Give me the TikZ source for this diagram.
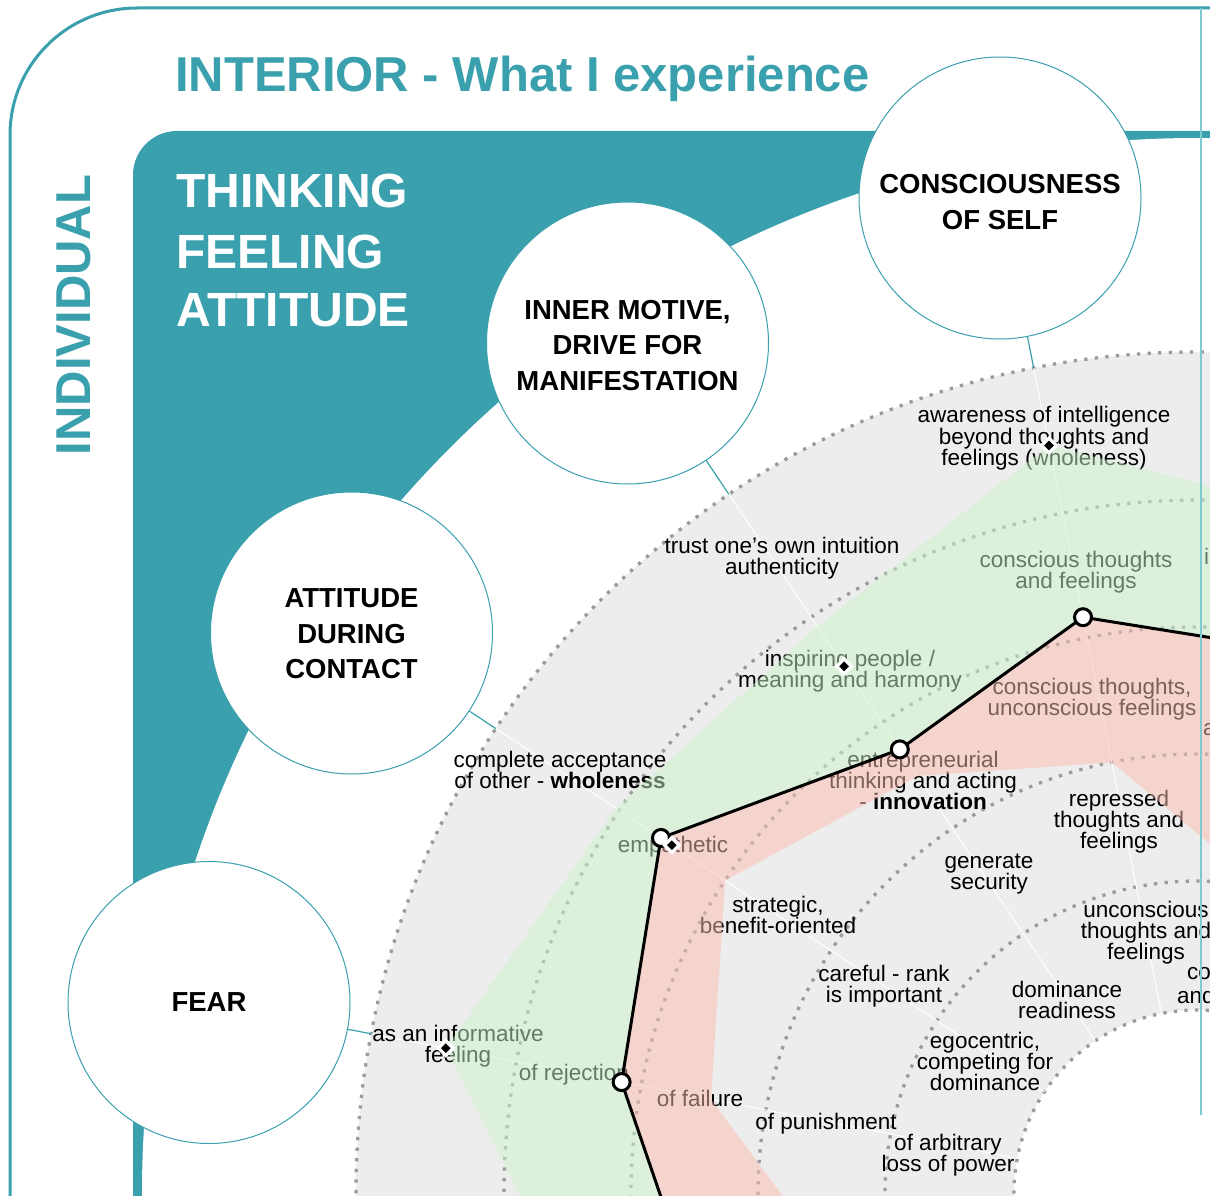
\documentclass[tikz,border=0pt]{standalone}
\usepackage{fontspec}
\setmainfont{Liberation Sans}
\usetikzlibrary{calc,shapes.geometric}
\definecolor{tealc}{HTML}{3AA0AD}
\definecolor{lineteal}{HTML}{7FCAD0}
\definecolor{chartgray}{HTML}{EDEDED}
\definecolor{dotgray}{HTML}{9B9B9B}
\definecolor{bandgreen}{RGB}{205,243,205}
\definecolor{bandred}{RGB}{253,189,177}

\begin{document}
\begin{tikzpicture}[x=1pt,y=-1pt,
  circ/.style={circle, draw=tealc, line width=1pt, fill=white, minimum size=282pt,
    inner sep=0pt, align=center, font=\fontsize{27.5}{35.5}\selectfont\bfseries},
  circtext/.style={inner sep=0pt, align=center, font=\fontsize{27.5}{35.5}\selectfont\bfseries},
  lbl/.style={align=center, inner sep=0pt, font=\fontsize{22.5}{21}\selectfont},
  head/.style={inner sep=0pt, font=\fontsize{49}{49}\selectfont\bfseries},
  ringline/.style={draw=dotgray, line width=3.3pt, dash pattern=on 3.3pt off 7.3pt},
  spoke/.style={draw=white, line width=1pt},
  conn/.style={draw=tealc, line width=1.2pt},
  mkcirc/.style={circle, draw=black, fill=white, line width=3pt, minimum size=17pt, inner sep=0pt},
  gem/.style={diamond, aspect=1, fill=black, draw=white, line width=3.2pt, minimum width=16pt, minimum height=16pt, inner sep=0pt},
]
\useasboundingbox (0,0) rectangle (1210,1196);
\clip (0,0) rectangle (1210,1196);
\coordinate (ctr) at (1197,1193);
\coordinate (far) at (1800,1800);

% outer frame
\draw[tealc, line width=3pt, rounded corners=127pt] (1240,8) -- (10,8) -- (10,1240);

% quadrant headings
\node[head, anchor=base west, text=tealc] (title) at (175,92) {INTERIOR - What I experience};
\node[head, rotate=90, text=tealc] (indiv) at (74,315) {INDIVIDUAL};

% teal panel with the round cut-out
\fill[tealc, rounded corners=44pt] (133,131) rectangle (1400,1400);
\fill[white] (ctr) circle (1055pt);
\node[anchor=base west, inner sep=0pt, text=white, font=\fontsize{48}{48}\selectfont\bfseries] (think) at (176,207) {THINKING};
\node[anchor=base west, inner sep=0pt, text=white, font=\fontsize{48}{48}\selectfont\bfseries] (feel) at (176,268) {FEELING};
\node[anchor=base west, inner sep=0pt, text=white, font=\fontsize{48}{48}\selectfont\bfseries] (attit) at (176,326) {ATTITUDE};

% chart background and levels
\fill[chartgray] (ctr) circle (841pt);
\fill[white] (ctr) circle (183pt);
\foreach \r in {841,693,566,439,312,183} \draw[ringline] (ctr) circle (\r pt);

% dimension circles
\node[circ] (cself) at (1000,198) {};
\node[circtext] (tself) at (1000,202) {CONSCIOUSNESS\\OF SELF};
\node[circ] (cmot) at (627.5,343) {};
\node[circtext] (tmot) at (627.5,345.5) {INNER MOTIVE,\\DRIVE FOR\\MANIFESTATION};
\node[circ] (catt) at (351.5,633) {};
\node[circtext] (tatt) at (351.5,634) {ATTITUDE\\DURING\\CONTACT};
\node[circ] (cfear) at (209,1002.5) {};
\node[circtext] (tfear) at (209,1002.5) {FEAR};

% spokes and connectors
\foreach \c in {cself,cmot,catt,cfear} {
  \draw[spoke] ($(ctr)!183pt!(\c)$) -- ($(ctr)!841pt!(\c)$);
  \draw[conn] (\c) -- ($(ctr)!841pt!(\c)$);
}

% level labels
\node[lbl] (l1) at (1044,438) {awareness of intelligence\\[1.5pt]beyond thoughts and\\feelings (wholeness)};
\node[lbl] (l2) at (1076,572) {conscious thoughts\\and feelings};
\node[lbl] (l3) at (1092,699) {conscious thoughts,\\unconscious feelings};
\node[lbl] (l4) at (1119,822) {repressed\\thoughts and\\feelings};
\node[lbl] (l5) at (1146,933) {unconscious\\thoughts and\\feelings};
\node[lbl] (l6) at (782,558) {trust one’s own intuition\\authenticity};
\node[lbl] (l7) at (850,671) {inspiring people /\\meaning and harmony};
\node[lbl] (l8) at (923,780) {entrepreneurial\\thinking and acting\\- \textbf{innovation}};
\node[lbl] (l9) at (989,874) {generate\\security};
\node[lbl] (l10) at (1067,1000) {dominance\\readiness};
\node[lbl] (l11) at (560,770) {complete acceptance\\of other - \textbf{wholeness}};
\node[lbl] (l12) at (673,847) {empathetic};
\node[lbl] (l13) at (778,915) {strategic,\\benefit-oriented};
\node[lbl] (l14) at (884,986) {careful - rank\\is important};
\node[lbl] (l15) at (985,1061) {egocentric,\\competing for\\dominance};
\node[lbl] (l16) at (458,1046) {as an informative\\feeling};
\node[lbl] (l17) at (574,1075) {of rejection};
\node[lbl] (l18) at (700,1098) {of failure};
\node[lbl] (l19) at (826,1124) {of punishment};
\node[lbl] (l20) at (948,1155) {of arbitrary\\loss of power};
\node[lbl, anchor=west] (l21) at (1204,556) {i};
\node[lbl, anchor=west] (l22) at (1203,730) {a};
\node[lbl, anchor=west] (l23) at (1187,974) {co};
\node[lbl, anchor=west] (l24) at (1177,995) {and};

% profile values
\coordinate (p7) at ($(ctr)+(56.25:550pt)$);
\coordinate (p0) at ($(ctr)+(78.75:551pt)$);
\coordinate (p1) at ($(ctr)!587pt!(cself)$);
\coordinate (p2) at ($(ctr)!534pt!(cmot)$);
\coordinate (p3) at ($(ctr)!643pt!(catt)$);
\coordinate (p4) at ($(ctr)!586pt!(cfear)$);
\coordinate (p5) at ($(ctr)+(191.25:513pt)$);
\coordinate (p6) at ($(ctr)+(213.75:500pt)$);

\coordinate (g7) at ($(ctr)+(56.25:700pt)$);
\coordinate (g0) at ($(ctr)+(78.75:690pt)$);
\coordinate (g1) at ($(ctr)!762pt!(cself)$);
\coordinate (g2) at ($(ctr)!682pt!(cmot)$);
\coordinate (g3) at ($(ctr)!697pt!(catt)$);
\coordinate (g4) at ($(ctr)!765pt!(cfear)$);
\coordinate (g5) at ($(ctr)+(191.25:629pt)$);
\coordinate (g6) at ($(ctr)+(213.75:640pt)$);

\coordinate (q7) at ($(ctr)+(56.25:320pt)$);
\coordinate (q0) at ($(ctr)+(78.75:315pt)$);
\coordinate (q1) at ($(ctr)!439pt!(cself)$);
\coordinate (q2) at ($(ctr)!502pt!(cmot)$);
\coordinate (q3) at ($(ctr)!566pt!(catt)$);
\coordinate (q4) at ($(ctr)!495pt!(cfear)$);
\coordinate (q5) at ($(ctr)+(191.25:370pt)$);
\coordinate (q6) at ($(ctr)+(213.75:330pt)$);

\coordinate (d1) at ($(ctr)!762pt!(cself)$);
\coordinate (d2) at ($(ctr)!634pt!(cmot)$);
\coordinate (d3) at ($(ctr)!630pt!(catt)$);
\coordinate (d4) at ($(ctr)!765pt!(cfear)$);

% upper and lower bands
\fill[bandgreen, fill opacity=0.5, even odd rule]
  (g7) -- (g0) -- (g1) -- (g2) -- (g3) -- (g4) -- (g5) -- (g6) -- (far) -- cycle
  (p7) -- (p0) -- (p1) -- (p2) -- (p3) -- (p4) -- (p5) -- (p6) -- (far) -- cycle;
\fill[bandred, fill opacity=0.5, even odd rule]
  (p7) -- (p0) -- (p1) -- (p2) -- (p3) -- (p4) -- (p5) -- (p6) -- (far) -- cycle
  (q7) -- (q0) -- (q1) -- (q2) -- (q3) -- (q4) -- (q5) -- (q6) -- (far) -- cycle;

% profile line with markers
\draw[line width=3pt, line join=round] (p0) -- (p1) -- (p2) -- (p3) -- (p4) -- (p5);
\node[mkcirc] (m1) at (p1) {};
\node[mkcirc] (m2) at (p2) {};
\node[mkcirc] (m3) at (p3) {};
\node[mkcirc] (m4) at (p4) {};
\node[gem] (dm1) at (d1) {};
\node[gem] (dm2) at (d2) {};
\node[gem] (dm3) at (d3) {};
\node[gem] (dm4) at (d4) {};

% quadrant divider
\draw[lineteal, line width=1.8pt] (1201,8) -- (1201,1115);
\end{tikzpicture}
\end{document}
